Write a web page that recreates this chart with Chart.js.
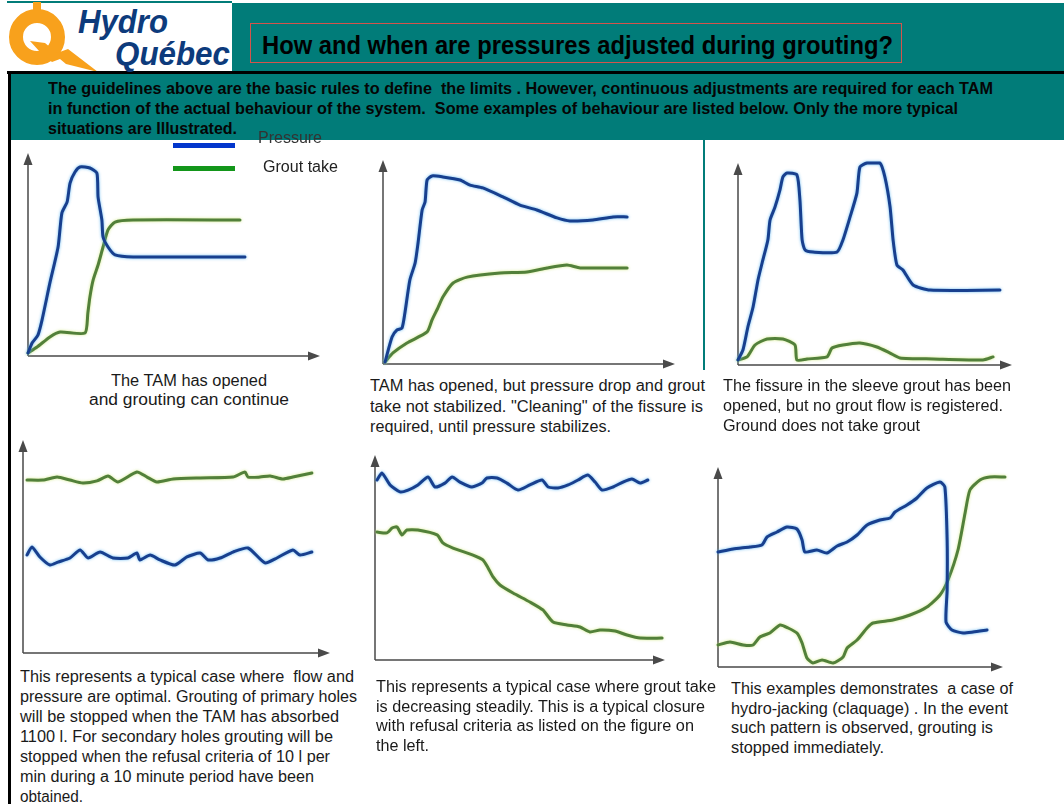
<!DOCTYPE html>
<html>
<head>
<meta charset="utf-8">
<script src="https://cdn.jsdelivr.net/npm/chart.js@4.4.1/dist/chart.umd.min.js"></script>
<style>
  html, body { margin: 0; padding: 0; background: #fff; }
  #page { position: relative; width: 1064px; height: 804px; overflow: hidden; background: #fff;
          font-family: "Liberation Sans", Arial, sans-serif; }
  .blk { position: absolute; }
  .ln { position: absolute; white-space: pre; transform-origin: 0 50%; line-height: 20px; height: 20px; }
  canvas { display: block; }
</style>
</head>
<body>
<div id="page">
  <!-- header strip and logo -->
  <div class="blk" style="left:7px;top:1px;width:225px;height:2px;background:#017c79"></div>
  <svg class="blk" style="left:0;top:2px" width="110" height="72" viewBox="0 0 110 72">
    <circle cx="37" cy="35" r="21" fill="none" stroke="#f8a11c" stroke-width="14"/>
    <rect x="33" y="0" width="8" height="9" fill="#f8a11c"/>
    <polygon points="30,39 45,41 57,51 68,47 98,70 66,62 60,57 52,60 40,50" fill="#f8a11c"/>
  </svg>
  <div class="blk" style="left:232px;top:3px;width:832px;height:68px;background:#017c79"></div>
  <div class="blk" style="left:250px;top:23px;width:650px;height:38px;border:1.5px solid #d4544c"></div>
  <div class="blk" style="left:7px;top:71px;width:1057px;height:3px;background:#000"></div>
  <div class="blk" style="left:9px;top:74px;width:1055px;height:66px;background:#017c79"></div>
  <div class="blk" style="left:8px;top:74px;width:3px;height:730px;background:#000"></div>
  <div class="blk" style="left:703px;top:140px;width:2px;height:230px;background:#017c79"></div>
</div>
<script>
// ---- series names (legend) ----
const seriesNames = ['Pressure', 'Grout take'];

// ---- panel 1: the TAM has opened, grouting can continue ----
const p1Time = [0, 1.4, 3.4, 4.8, 7.5, 10.3, 11.6, 13.4, 14.4, 16.1, 17.8, 21.2, 23.6, 24.0, 25.3, 25.7, 27.4, 29.8, 36.0, 74.3];
const p1Pressure = [1.5, 6.4, 10.3, 17.7, 36.0, 53.7, 70.4, 75.9, 85.2, 90.6, 93.1, 92.6, 90.1, 78.3, 67.0, 58.6, 53.7, 49.8, 48.8, 48.8];
const g1Time = [0, 3.1, 7.5, 11.0, 19.5, 20.5, 21.2, 22.3, 24.0, 25.7, 27.4, 29.8, 36.0, 72.6];
const g1Grout = [1.5, 4.4, 9.4, 11.8, 11.3, 21.2, 29.1, 37.4, 44.8, 53.7, 62.1, 66.0, 67.0, 67.0];

// ---- panel 2: opened, pressure drop and grout take not stabilized ----
const p2Time = [0.7, 3.1, 4.8, 6.5, 7.5, 9.2, 11.0, 12.0, 13.4, 14.4, 15.1, 16.8, 20.5, 26.4, 29.8, 34.2, 41.1, 46.9, 52.7, 59.6, 64.0, 71.9, 78.8, 83.6];
const p2Pressure = [1.0, 13.2, 16.7, 17.6, 25.0, 41.2, 49.5, 59.3, 75.5, 79.4, 90.2, 92.2, 91.7, 90.2, 87.7, 86.3, 81.9, 77.9, 75.5, 71.6, 70.1, 70.6, 72.1, 72.1];
const g2Time = [0.7, 3.4, 8.2, 15.1, 16.8, 18.8, 20.5, 24.0, 28.8, 40.1, 49.3, 56.2, 63.0, 67.5, 83.6];
const g2Grout = [1.0, 5.4, 10.3, 15.7, 21.6, 27.5, 32.8, 39.7, 42.6, 44.6, 45.1, 47.1, 48.5, 47.1, 47.1];

// ---- panel 3: sleeve grout fissure opened, no grout flow ----
const p3Time = [0, 1.8, 3.6, 5.5, 7.3, 8.8, 10.9, 11.7, 13.5, 15.3, 16.4, 17.9, 21.5, 22.6, 23.4, 24.5, 27.4, 36.1, 38.3, 40.9, 43.4, 44.5, 47.1, 51.8, 53.6, 55.5, 56.6, 58.0, 60.2, 63.9, 70.1, 95.6];
const p3Pressure = [2.5, 7.4, 18.8, 28.7, 42.1, 50.5, 61.9, 71.8, 78.2, 86.6, 93.1, 95.0, 94.1, 81.7, 61.9, 56.9, 55.9, 55.9, 61.9, 73.3, 85.1, 98.0, 100, 100, 93.1, 78.2, 61.9, 49.5, 47.0, 39.6, 37.1, 37.1];
const g3Time = [0, 3.3, 6.2, 10.6, 16.4, 20.8, 21.5, 25.2, 32.5, 34.3, 38.3, 44.5, 50.7, 55.5, 59.1, 71.2, 89.4, 93.1];
const g3Grout = [2.5, 4.0, 9.9, 12.9, 12.9, 9.9, 2.5, 3.0, 4.0, 8.4, 9.9, 10.9, 8.9, 5.9, 3.5, 3.0, 2.5, 4.0];

// ---- panel 4: optimal flow and pressure ----
const p4Time = [1.3, 2.9, 5.5, 8.8, 11.4, 15.3, 18.6, 21.2, 25.1, 29.3, 34.2, 37.1, 38.1, 41.4, 44.6, 49.5, 53.4, 57.7, 60.3, 64.2, 68.4, 73.3, 78.8, 82.7, 87.9, 90.2, 94.1];
const p4Pressure = [46.0, 49.8, 45.1, 41.3, 42.7, 44.6, 48.4, 44.6, 47.4, 44.6, 44.6, 46.9, 43.7, 46.0, 43.7, 41.3, 45.1, 46.9, 43.7, 44.6, 47.4, 49.3, 42.3, 44.6, 48.4, 46.0, 47.4];
const g4Time = [1.3, 6.5, 11.1, 15.3, 19.5, 24.1, 27.7, 30.9, 37.1, 40.4, 43.6, 48.9, 57.7, 68.4, 72.3, 73.3, 77.2, 80.5, 84.7, 87.9, 94.1];
const g4Grout = [81.2, 81.2, 82.6, 81.2, 79.8, 80.8, 83.1, 80.3, 85.0, 82.6, 80.3, 81.7, 82.2, 82.6, 85.0, 82.6, 82.6, 83.1, 81.7, 82.6, 84.5];

// ---- panel 5: grout take decreasing steadily ----
const p5Time = [0.7, 2.4, 5.2, 8.6, 11.4, 14.8, 18.3, 20.7, 24.1, 26.6, 29.3, 33.4, 36.9, 38.6, 42.1, 45.5, 49.3, 53.4, 57.6, 59.7, 63.1, 66.6, 70.0, 73.4, 75.9, 78.3, 82.1, 85.5, 88.6, 91.4, 94.1];
const p5Pressure = [87.8, 91.2, 85.4, 82.0, 82.9, 85.4, 89.3, 84.4, 86.3, 89.3, 86.8, 84.4, 86.3, 88.8, 88.8, 86.3, 82.9, 85.4, 87.8, 84.4, 83.9, 85.4, 87.8, 90.2, 86.8, 82.9, 84.4, 86.8, 88.3, 86.3, 87.8];
const g5Time = [0.7, 4.1, 5.9, 7.6, 9.3, 11.0, 14.8, 21.4, 23.4, 26.9, 33.8, 37.2, 39.0, 40.7, 43.1, 47.6, 53.4, 57.9, 61.4, 66.2, 70.7, 74.1, 77.6, 82.8, 86.9, 91.4, 99.0];
const g5Grout = [62.4, 62.0, 64.4, 64.9, 61.0, 63.4, 63.4, 61.0, 57.1, 54.6, 51.2, 48.8, 44.9, 40.5, 36.6, 32.7, 28.3, 24.4, 18.5, 17.1, 16.1, 13.7, 14.6, 14.1, 12.2, 10.7, 10.7];

// ---- panel 6: hydro-jacking (claquage) ----
const p6Time = [0, 5.3, 11.2, 15.4, 17.2, 20.7, 24.2, 27.7, 29.5, 30.5, 34.7, 38.2, 41.8, 45.3, 48.8, 52.3, 56.8, 60.4, 62.1, 66.3, 69.8, 73.3, 77.9, 79.6, 80.4, 80.4, 80.0, 82.1, 86.0, 89.5, 94.4];
const p6Pressure = [57.5, 59.0, 60.0, 61.0, 65.0, 67.5, 70.0, 69.0, 63.5, 57.5, 58.5, 57.0, 60.5, 62.5, 66.0, 71.0, 73.5, 74.5, 77.5, 81.0, 84.5, 89.5, 92.5, 90.0, 63.5, 38.5, 22.5, 18.5, 17.0, 17.5, 18.5];
const g6Time = [0, 4.2, 8.8, 12.3, 14.7, 18.2, 21.8, 24.6, 27.7, 29.5, 31.2, 33.3, 36.5, 40.4, 43.9, 45.3, 48.8, 52.3, 54.4, 61.4, 67.4, 73.3, 77.9, 80.7, 84.2, 86.7, 88.4, 91.9, 95.4, 100.7];
const g6Grout = [11.0, 12.5, 11.0, 11.0, 15.0, 17.0, 21.0, 19.5, 17.0, 12.0, 4.5, 2.0, 3.5, 2.0, 5.0, 9.5, 13.5, 19.5, 22.0, 23.5, 26.0, 30.0, 36.0, 43.5, 58.5, 77.0, 88.5, 93.5, 95.0, 95.0];

// ---- text ----
const titleText = 'How and when are pressures adjusted during grouting?';
const introLines = [
  'The guidelines above are the basic rules to define  the limits . However, continuous adjustments are required for each TAM',
  'in function of the actual behaviour of the system.  Some examples of behaviour are listed below. Only the more typical',
  'situations are Illustrated.'
];
const caption1 = ['The TAM has opened', 'and grouting can continue'];
const caption2 = ['TAM has opened, but pressure drop and grout', 'take not stabilized. "Cleaning" of the fissure is', 'required, until pressure stabilizes.'];
const caption3 = ['The fissure in the sleeve grout has been', 'opened, but no grout flow is registered.', 'Ground does not take grout'];
const caption4 = ['This represents a typical case where  flow and', 'pressure are optimal. Grouting of primary holes', 'will be stopped when the TAM has absorbed', '1100 l. For secondary holes grouting will be', 'stopped when the refusal criteria of 10 l per', 'min during a 10 minute period have been', 'obtained.'];
const caption5 = ['This represents a typical case where grout take', 'is decreasing steadily. This is a typical closure', 'with refusal criteria as listed on the figure on', 'the left.'];
const caption6 = ['This examples demonstrates  a case of', 'hydro-jacking (claquage) . In the event', 'such pattern is observed, grouting is', 'stopped immediately.'];

// ---- styling ----
const BLUE = '#183f8e', BLUE_HALO = 'rgba(80,175,240,0.85)';
const GREEN = '#52803a', GREEN_HALO = 'rgba(205,230,120,0.85)';
const AXIS = '#4a4a4a';
const PAD = 12;

const page = document.getElementById('page');

// one line of text, stretched or squeezed to the given width
function textLine(str, x, cy, w, font, color) {
  const d = document.createElement('div');
  d.className = 'ln';
  d.textContent = str;
  d.style.font = font;
  d.style.lineHeight = '20px';
  d.style.left = x + 'px';
  d.style.top = (cy - 10) + 'px';
  d.style.color = color;
  page.appendChild(d);
  const nat = d.getBoundingClientRect().width;
  if (w && nat > 0) d.style.transform = 'scaleX(' + (w / nat) + ')';
  return d;
}

function block(lines, x, cy0, step, widths, font, color, centerX) {
  lines.forEach((s, i) => {
    const w = widths[i];
    const left = centerX != null ? centerX - w / 2 : x;
    textLine(s, left, cy0 + i * step, w, font, color);
  });
}

const pairs = (t, v) => t.map((x, i) => ({ x: x, y: v[i] }));

// axes drawn as arrows from the origin
const arrowAxes = {
  id: 'arrowAxes',
  beforeDatasetsDraw(chart) {
    const ctx = chart.ctx;
    const xs = chart.scales.x, ys = chart.scales.y;
    const x0 = xs.getPixelForValue(0), x1 = xs.getPixelForValue(100);
    const y0 = ys.getPixelForValue(0), y1 = ys.getPixelForValue(100);
    ctx.save();
    ctx.strokeStyle = AXIS; ctx.fillStyle = AXIS; ctx.lineWidth = 1.5;
    ctx.beginPath();
    ctx.moveTo(x0, y0); ctx.lineTo(x0, y1 + 8);
    ctx.moveTo(x0, y0); ctx.lineTo(x1 - 8, y0);
    ctx.stroke();
    ctx.beginPath();
    ctx.moveTo(x0, y1); ctx.lineTo(x0 - 4.5, y1 + 12); ctx.lineTo(x0 + 4.5, y1 + 12); ctx.closePath(); ctx.fill();
    ctx.beginPath();
    ctx.moveTo(x1, y0); ctx.lineTo(x1 - 12, y0 - 4.5); ctx.lineTo(x1 - 12, y0 + 4.5); ctx.closePath(); ctx.fill();
    ctx.restore();
  }
};

// soft coloured glow around each curve
const glow = {
  id: 'glow',
  beforeDatasetDraw(chart, args) {
    const ds = chart.data.datasets[args.index];
    chart.ctx.save();
    chart.ctx.shadowColor = ds.halo;
    chart.ctx.shadowBlur = 3;
  },
  afterDatasetDraw(chart) { chart.ctx.restore(); }
};

function panel(box, pT, pV, gT, gV) {
  const c = document.createElement('canvas');
  c.width = box.w + 2 * PAD;
  c.height = box.h + 2 * PAD;
  c.style.cssText = 'position:absolute;left:' + (box.x - PAD) + 'px;top:' + (box.y - PAD) + 'px;width:' + c.width + 'px;height:' + c.height + 'px';
  page.appendChild(c);
  new Chart(c, {
    type: 'line',
    data: {
      datasets: [
        { label: seriesNames[0], data: pairs(pT, pV), borderColor: BLUE, halo: BLUE_HALO },
        { label: seriesNames[1], data: pairs(gT, gV), borderColor: GREEN, halo: GREEN_HALO }
      ]
    },
    options: {
      responsive: false, animation: false, devicePixelRatio: 1,
      layout: { padding: PAD },
      scales: {
        x: { type: 'linear', min: 0, max: 100, display: false },
        y: { type: 'linear', min: 0, max: 100, display: false }
      },
      plugins: { legend: { display: false }, tooltip: { enabled: false } },
      elements: {
        point: { radius: 0 },
        line: { tension: 0.2, borderWidth: 3, borderCapStyle: 'round', borderJoinStyle: 'round', fill: false }
      },
      datasets: { line: { clip: false } }
    },
    plugins: [arrowAxes, glow]
  });
}

panel({ x: 28, y: 153, w: 292, h: 203 }, p1Time, p1Pressure, g1Time, g1Grout);
panel({ x: 383, y: 160, w: 292, h: 204 }, p2Time, p2Pressure, g2Time, g2Grout);
panel({ x: 738, y: 163, w: 274, h: 202 }, p3Time, p3Pressure, g3Time, g3Grout);
panel({ x: 23, y: 440, w: 307, h: 213 }, p4Time, p4Pressure, g4Time, g4Grout);
panel({ x: 375, y: 455, w: 290, h: 205 }, p5Time, p5Pressure, g5Time, g5Grout);
panel({ x: 718, y: 467, w: 285, h: 200 }, p6Time, p6Pressure, g6Time, g6Grout);

// logo wordmark
textLine('Hydro', 78, 21, 90, 'italic bold 34px "Liberation Sans", Arial, sans-serif', '#0d3b7c');
textLine('Québec', 115, 53, 115, 'italic bold 34px "Liberation Sans", Arial, sans-serif', '#0d3b7c');

// title and introduction
textLine(titleText, 262, 45, 631, 'bold 25px "Liberation Sans", Arial, sans-serif', '#000');
block(introLines, 48, 89, 20, [945, 910, 189], 'bold 16px "Liberation Sans", Arial, sans-serif', '#050505');

// legend
const legendBars = [{ c: '#0336cc', y: 143 }, { c: '#13961a', y: 166 }];
legendBars.forEach(b => {
  const d = document.createElement('div');
  d.className = 'blk';
  d.style.cssText = 'left:173px;top:' + b.y + 'px;width:62px;height:5px;background:' + b.c;
  page.appendChild(d);
});
textLine(seriesNames[0], 258, 138, 64, '16px "Liberation Sans", Arial, sans-serif', '#333');
textLine(seriesNames[1], 263, 167, 75, '16px "Liberation Sans", Arial, sans-serif', '#222');

// captions
const CAP = '16px "Liberation Sans", Arial, sans-serif', INK = '#1a1a1a';
block(caption1, 0, 381, 19, [156, 200], CAP, INK, 189);
block(caption2, 370, 386, 20.5, [335, 333, 241], CAP, INK);
block(caption3, 723, 386, 20, [288, 280, 197], CAP, INK);
block(caption4, 20, 677, 20, [334, 337, 319, 313, 310, 294, 63], CAP, INK);
block(caption5, 376, 687, 19.5, [340, 329, 318, 53], CAP, INK);
block(caption6, 731, 689, 19.7, [282, 277, 262, 153], CAP, INK);
</script>
</body>
</html>
